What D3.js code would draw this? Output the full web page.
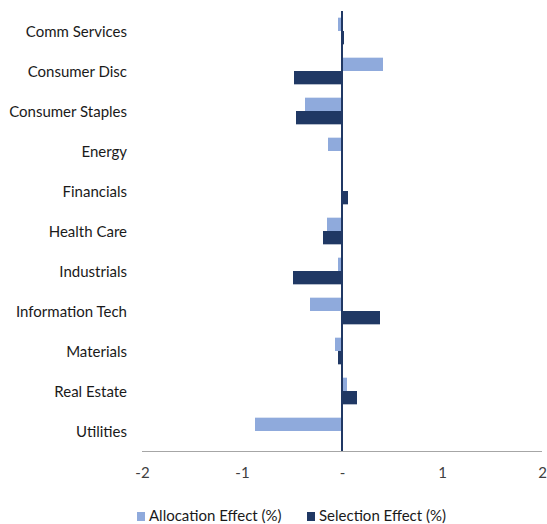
<!DOCTYPE html>
<html><head><meta charset="utf-8">
<script src="https://cdn.jsdelivr.net/npm/d3@7"></script>
<style>body{margin:0;background:#fff}svg{display:block;font-family:Lato,"Liberation Sans",sans-serif}</style>
</head><body>
<svg id="c" width="547" height="524"></svg>
<script>
const categories = ["Comm Services","Consumer Disc","Consumer Staples","Energy","Financials","Health Care","Industrials","Information Tech","Materials","Real Estate","Utilities"];
const allocation = [-0.04, 0.41, -0.37, -0.14, 0.005, -0.15, -0.04, -0.32, -0.07, 0.05, -0.87];
const selection = [0.02, -0.48, -0.46, 0.0, 0.06, -0.19, -0.49, 0.38, -0.04, 0.15, 0.0];
const seriesNames = ["Allocation Effect (%)", "Selection Effect (%)"];
const colors = ["#8faadc", "#203864"];
const xTicks = [-2, -1, 0, 1, 2];
const xTickLabels = ["-2", "-1", "-", "1", "2"];

(function(){
const svg = d3.select("#c");
const pL = 142, pR = 542, pT = 11, pB = 451;
const FS = 15;
const x = d3.scaleLinear().domain([-2, 2]).range([pL, pR]);
const y = d3.scaleBand().domain(categories).range([pT, pB]).paddingInner(0).paddingOuter(0);
const sub = d3.scaleBand().domain([0, 1]).range([0, y.bandwidth()]).paddingInner(0).paddingOuter(0.5);

const data = categories.map((c, i) => ({c, v: [allocation[i], selection[i]]}));
const g = svg.append("g");
data.forEach(d => {
  d.v.forEach((v, k) => {
    g.append("rect")
      .attr("x", x(Math.min(0, v)))
      .attr("width", Math.abs(x(v) - x(0)))
      .attr("y", y(d.c) + sub(k))
      .attr("height", sub.bandwidth())
      .attr("fill", colors[k]);
  });
});

svg.append("line").attr("x1", pL).attr("x2", pR).attr("y1", pB + 0.5).attr("y2", pB + 0.5)
  .attr("stroke", "#a6a6a6").attr("stroke-width", 1);
svg.append("line").attr("x1", x(0)).attr("x2", x(0)).attr("y1", pT).attr("y2", pB)
  .attr("stroke", "#203864").attr("stroke-width", 2);

const xAxis = d3.axisBottom(x).tickValues(xTicks).tickFormat((d, i) => xTickLabels[i]).tickSize(0).tickPadding(16);
const ax = svg.append("g").attr("transform", `translate(0,${pB})`).call(xAxis);
ax.select(".domain").remove();
ax.selectAll("text").attr("font-size", FS).attr("fill", "#404040").style("font-family", "Lato,'Liberation Sans',sans-serif");

const yAxis = d3.axisLeft(y).tickSize(0).tickPadding(15);
const ay = svg.append("g").attr("transform", `translate(${pL},0)`).call(yAxis);
ay.select(".domain").remove();
ay.selectAll("text").attr("font-size", FS).attr("fill", "#1a1a1a").attr("dy", "0.4em").style("font-family", "Lato,'Liberation Sans',sans-serif");

const legX = [137, 307];
seriesNames.forEach((n, k) => {
  svg.append("rect").attr("x", legX[k]).attr("y", 512).attr("width", 8).attr("height", 9).attr("fill", colors[k]);
  svg.append("text").attr("x", legX[k] + 12).attr("y", 521).attr("font-size", FS).attr("fill", "#1a1a1a").text(n);
});
})();
</script>
</body></html>
